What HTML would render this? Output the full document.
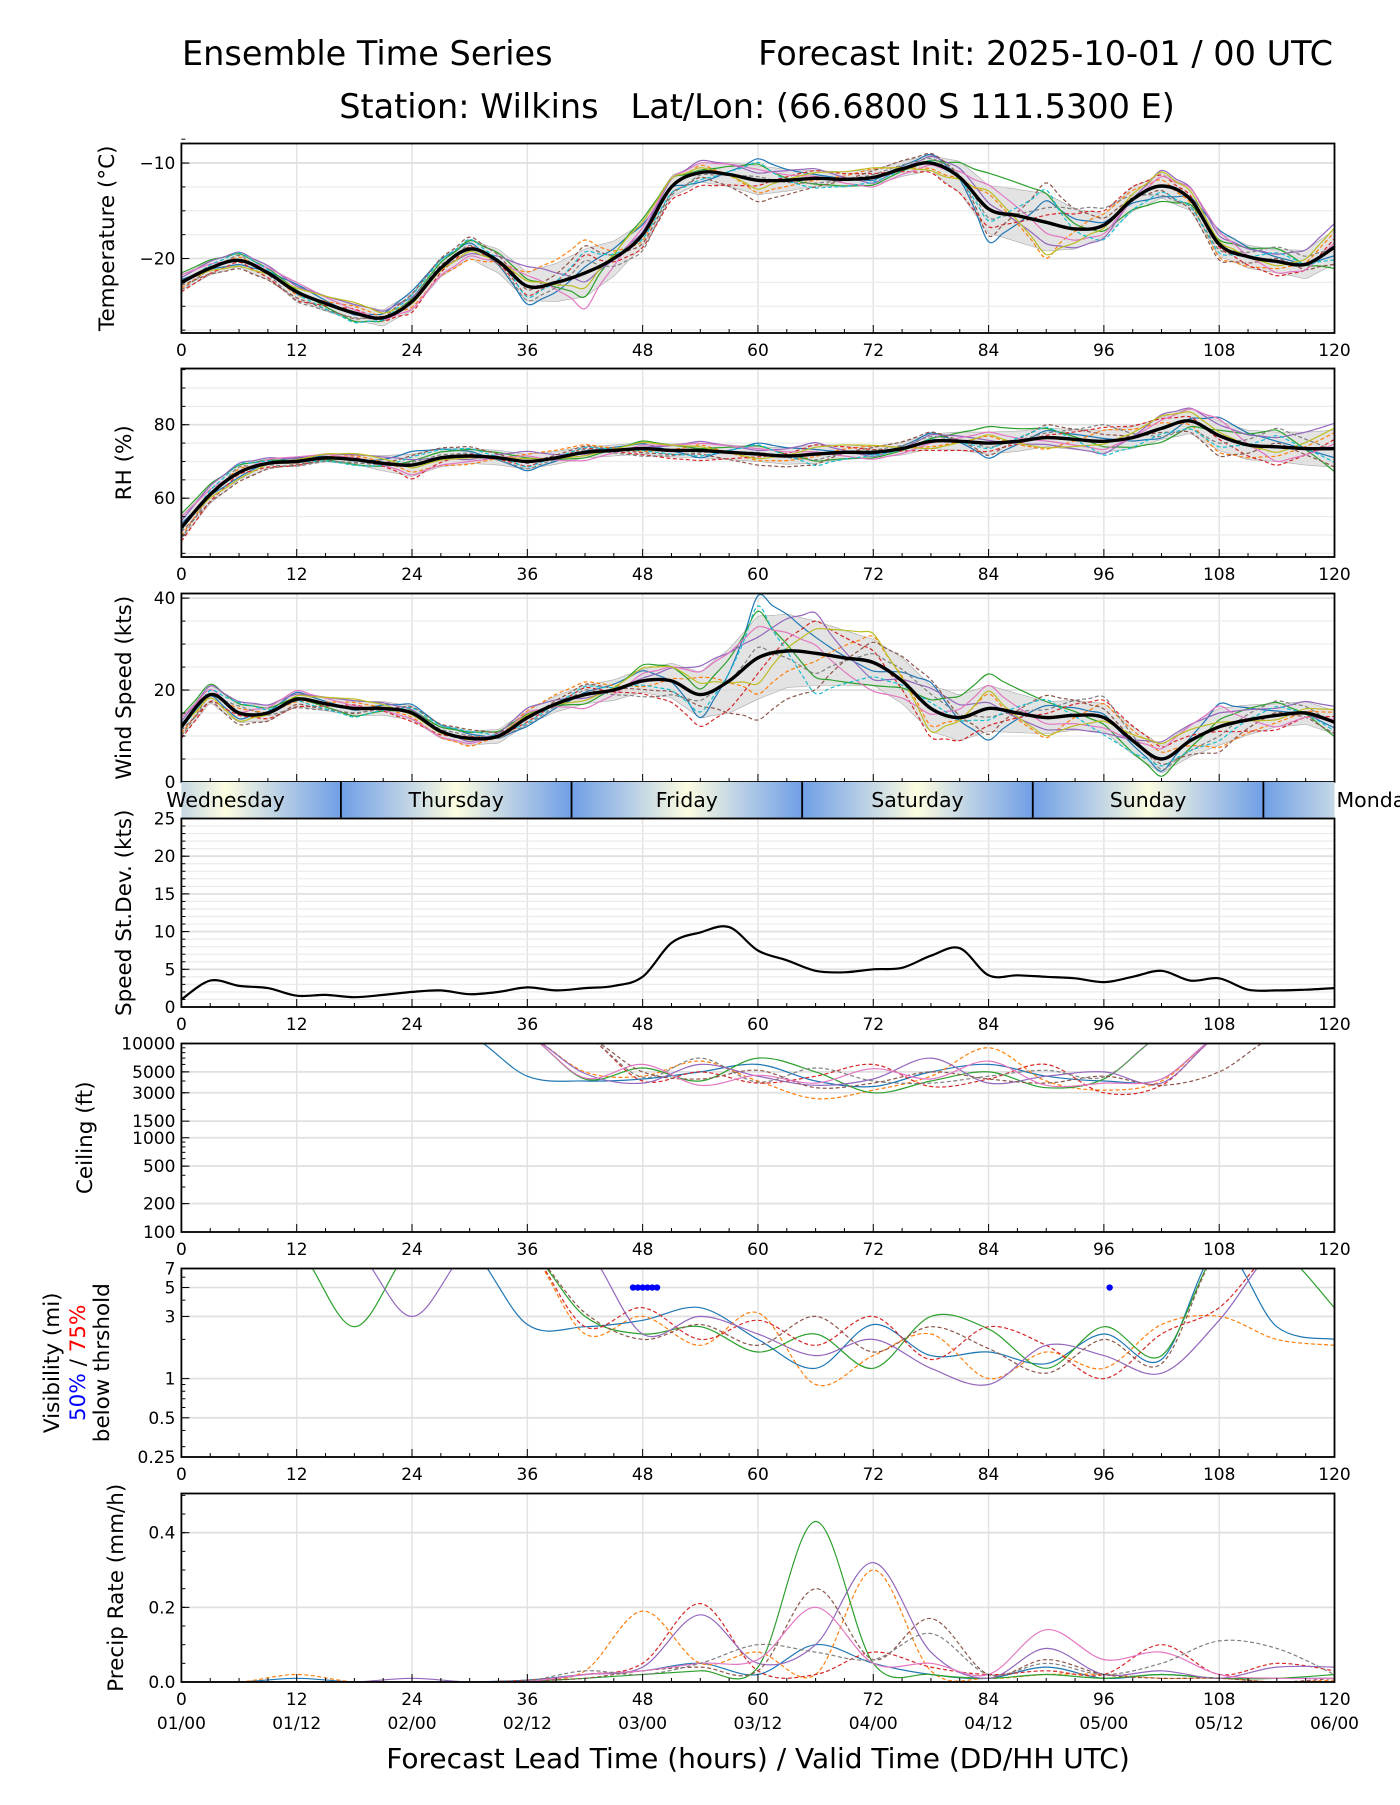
<!DOCTYPE html>
<html><head><meta charset="utf-8">
<style>
html,body{margin:0;padding:0;background:#fff;}
svg text{font-family:"DejaVu Sans","Liberation Sans",sans-serif;fill:#000;}
</style></head>
<body>
<svg id="chart" width="1400" height="1800" viewBox="0 0 1400 1800" xmlns="http://www.w3.org/2000/svg">
<text x="182" y="65" font-size="33.5">Ensemble Time Series</text>
<text x="1333" y="65" font-size="33.5" text-anchor="end">Forecast Init: 2025-10-01 / 00 UTC</text>
<text x="757" y="118" font-size="33.5" text-anchor="middle">Station: Wilkins &#160;&#160;Lat/Lon: (66.6800 S 111.5300 E)</text>
<text x="758" y="1768" font-size="28" text-anchor="middle">Forecast Lead Time (hours) / Valid Time (DD/HH UTC)</text>
<g id="root"></g>
</svg>
<script>
// ---- data (3-hourly, hours 0..120) ----
const hours3 = [0,3,6,9,12,15,18,21,24,27,30,33,36,39,42,45,48,51,54,57,60,63,66,69,72,75,78,81,84,87,90,93,96,99,102,105,108,111,114,117,120];
const tempMean = [-22.5,-21,-20.2,-21.5,-23.5,-24.7,-25.7,-26.2,-24.5,-21,-19,-20.3,-22.9,-22.5,-21.5,-20,-17.5,-12.5,-11,-11.2,-11.8,-11.8,-11.6,-11.7,-11.5,-10.6,-10,-11.5,-14.8,-15.5,-16.2,-16.9,-16.5,-13.8,-12.4,-13.8,-18.5,-19.8,-20.3,-20.6,-18.8];
const rhMean = [52,61,67,69.5,70,71,70.5,69.5,69,71,71.5,71,70,71,72.5,73,73.5,73,73,72.5,72,71.5,72,72.5,72.5,73.5,75.5,75.5,75,75.5,76.5,76,75.5,76.5,79,81,77,74.5,74,73.5,73.5];
const windMean = [12,19,15,15,18,17,16,16,15,11,9.5,10,14,17,19,20,22,22,19,22,27,28.5,28,27,26,22,16,14,16,15,14,14.5,14,9,5,9,12,13.5,14.5,15,13];
const sdevValues = [1,3.5,2.8,2.5,1.5,1.6,1.3,1.6,2,2.2,1.7,2,2.6,2.2,2.5,2.8,4,8.5,9.9,10.6,7.5,6.2,4.8,4.6,5,5.2,6.8,7.8,4.2,4.2,4,3.8,3.3,4,4.8,3.5,3.8,2.3,2.2,2.3,2.5];
// 6-hourly (hours 0..120)
const hours6 = [0,6,12,18,24,30,36,42,48,54,60,66,72,78,84,90,96,102,108,114,120];
const tempSpread = [0.8,0.7,0.8,0.8,0.9,1.0,1.5,2.5,1.2,1.0,1.5,0.8,0.8,0.8,2.5,3,1.2,1.3,1.2,1.2,1.8];
const rhSpread = [3,2,1,1.2,3,2,2,1.5,1.5,2,2,2.5,1.5,2,3,2.5,3,3,4,4,5];
const windSpread = [2,2,1.5,1.5,1.5,1.5,1.5,2,2.5,5,9,7,5,5,5,3.5,3,3,4,2.5,2.5];
const memberDev = [
 [0.3,-0.5,0.8,-0.2,1,0.5,-1,0.2,0.7,-0.8,1.2,0.4,-0.3,0.9,-1.1,0.6,0.2,-0.7,1,0.3,-0.4],
 [-0.6,0.4,-0.3,0.7,-0.5,-0.9,0.8,1.1,-0.4,0.6,-0.7,-0.2,0.9,-0.6,0.5,-1,0.8,0.4,-0.9,-0.5,0.7],
 [1,0.8,0.2,-0.9,0.3,0.7,0.4,-0.8,1.1,0.2,0.9,-0.6,-0.8,0.3,1.2,0.8,-0.4,-1,0.3,0.9,-1],
 [-1,-0.2,-0.9,0.4,-1,0.2,-0.5,0.6,-0.9,-1.1,-0.3,0.8,0.4,-1,-0.6,0.2,1,0.7,-0.2,-1,0.4],
 [0.5,1,0.6,0.9,0.4,-0.4,1.1,-0.3,0.2,1,0.4,1,-0.6,0.7,0.2,-0.6,-0.9,1,0.6,0.5,1.1],
 [-0.3,-1,-0.6,-0.6,0.7,1,-0.2,0.9,-0.6,-0.4,-1.2,-0.9,0.7,1,-0.9,1.1,0.5,-0.3,-1.1,0.2,-0.8],
 [0.8,0.1,1,0.3,-0.7,-0.6,0.6,-1.2,0.5,0.8,0.6,0.2,-1,-0.2,0.8,-0.3,-0.6,0.6,0.9,-0.8,0.2],
 [-0.8,0.6,-1,-0.5,0.2,0.3,-0.8,0.4,-1.1,-0.2,0.2,-0.5,0.3,0.5,-0.3,0.4,1.2,-0.6,-0.4,1,-0.1],
 [0.1,-0.7,0.4,1.1,-0.2,-0.2,0.3,-0.5,0.9,0.4,-0.5,0.6,1,-0.8,0.6,-0.9,-0.2,0.9,0.2,-0.3,0.9],
 [-0.2,0.9,-0.2,-1,0.6,0.8,-0.6,0.7,-0.3,-0.6,1,-1,-0.5,0.2,-0.4,0.9,-1,-0.4,-0.6,0.6,-0.6]
];
const ceilMembers = [
 [12000,12000,12000,12000,12000,12000,4500,4000,4200,5000,6000,4000,3500,5000,6000,4500,4000,4200,12000,12000,12000],
 [12000,12000,12000,12000,12000,12000,12000,5000,4500,6500,4000,2600,3200,4500,9000,4000,3200,4000,12000,12000,12000],
 [12000,12000,12000,12000,12000,12000,12000,4200,5500,4000,7000,5000,3000,4000,5000,3400,4200,12000,12000,12000,12000],
 [12000,12000,12000,12000,12000,12000,12000,12000,4000,5000,3800,4500,6000,3500,4200,6000,3000,3600,12000,12000,12000],
 [12000,12000,12000,12000,12000,12000,12000,4800,3800,6000,4500,3600,4200,7000,3800,4500,5000,3800,12000,12000,12000],
 [12000,12000,12000,12000,12000,12000,12000,12000,5000,4200,5200,3400,3800,5000,4200,3800,4500,3600,5000,12000,12000],
 [12000,12000,12000,12000,12000,12000,12000,4300,6000,3600,4600,3800,5400,4200,6500,3600,3800,4200,12000,12000,12000],
 [12000,12000,12000,12000,12000,12000,12000,12000,4400,7000,3900,5500,4000,3800,4500,5200,4400,12000,12000,12000,12000]
];
const visMembers = [
 [10,10,10,10,10,10,2.6,2.5,2.8,3.5,2,1.2,2.6,1.5,1.6,1.3,2.2,1.4,10,2.5,2],
 [10,10,10,10,10,10,10,2.2,3,1.8,3.2,0.9,1.5,2.2,1,1.6,1.2,2.6,3,2,1.8],
 [10,10,10,2.5,10,10,10,3,2.2,2.5,1.6,2.2,1.2,3,2.4,1.2,2.5,1.5,10,10,3.5],
 [10,10,10,10,10,10,10,2.5,3.5,2,2.8,1.8,3,1.4,2.5,1.8,1,2.2,3.5,10,10],
 [10,10,10,10,3,10,10,10,2.2,3,2.2,1.5,2,1.2,0.9,1.8,1.5,1.1,2.8,10,10],
 [10,10,10,10,10,10,10,3.2,2,2.6,1.8,3,1.6,2.5,1.7,1.1,2,1.3,10,10,10]
];
const precipMembers = [
 [0,0,0.01,0,0,0,0.005,0.02,0.03,0.05,0.02,0.1,0.05,0.02,0.01,0.04,0.01,0.02,0.01,0.01,0.01],
 [0,0,0.02,0,0,0,0.003,0.03,0.19,0.05,0.08,0.02,0.3,0.03,0.01,0.02,0.02,0.01,0.01,0,0.005],
 [0,0,0,0,0,0,0.002,0.01,0.02,0.03,0.04,0.43,0.05,0.02,0.01,0.02,0.01,0.02,0.01,0.01,0.02],
 [0,0,0,0,0,0,0.005,0.02,0.05,0.21,0.03,0.02,0.08,0.04,0.02,0.03,0.02,0.1,0.02,0.05,0.03],
 [0,0,0,0,0.01,0,0.002,0.02,0.04,0.18,0.05,0.1,0.32,0.08,0.01,0.09,0.02,0.03,0.01,0.04,0.04],
 [0,0,0,0,0,0,0.003,0.01,0.03,0.04,0.03,0.25,0.06,0.17,0.02,0.06,0.02,0.01,0.01,0,0.01],
 [0,0,0,0,0,0,0.002,0.02,0.03,0.05,0.06,0.2,0.05,0.05,0.02,0.14,0.06,0.08,0.02,0.01,0.01],
 [0,0,0,0,0,0,0.003,0.03,0.02,0.05,0.1,0.08,0.06,0.13,0.02,0.05,0.02,0.05,0.11,0.09,0.02]
];
const visDotHours = [47,47.5,48,48.5,49,49.5,96.6];
const visDotValues = [5,5,5,5,5,5,5];
const xTickLabels = ['0','12','24','36','48','60','72','84','96','108','120'];
const dateLabels = ['01/00','01/12','02/00','02/12','03/00','03/12','04/00','04/12','05/00','05/12','06/00'];
const dayNames = ['Wednesday','Thursday','Friday','Saturday','Sunday','Monday'];
const dayStartHours = [-7.4,16.6,40.6,64.6,88.6,112.6];

// ---- helpers ----
const NS='http://www.w3.org/2000/svg';
const root=document.getElementById('root');
const X0=181.4, X1=1334.5;
const xs=h=>X0+h/120*(X1-X0);
const colors=['#1f77b4','#ff7f0e','#2ca02c','#d62728','#9467bd','#8c564b','#e377c2','#7f7f7f','#bcbd22','#17becf'];
function mk(tag,attrs,parent){const e=document.createElementNS(NS,tag);for(const k in attrs)e.setAttribute(k,attrs[k]);(parent||root).appendChild(e);return e;}
function interp(hs,vs,h){if(h<=hs[0])return vs[0];for(let i=1;i<hs.length;i++){if(h<=hs[i]){const t=(h-hs[i-1])/(hs[i]-hs[i-1]);return vs[i-1]+t*(vs[i]-vs[i-1]);}}return vs[vs.length-1];}
function smooth(pts){if(!pts.length)return'';let d='M'+pts[0][0].toFixed(1)+','+pts[0][1].toFixed(1);for(let i=0;i<pts.length-1;i++){const p0=pts[i-1]||pts[i],p1=pts[i],p2=pts[i+1],p3=pts[i+2]||p2;const c1=[p1[0]+(p2[0]-p0[0])/6,p1[1]+(p2[1]-p0[1])/6],c2=[p2[0]-(p3[0]-p1[0])/6,p2[1]-(p3[1]-p1[1])/6];d+='C'+c1[0].toFixed(1)+','+c1[1].toFixed(1)+' '+c2[0].toFixed(1)+','+c2[1].toFixed(1)+' '+p2[0].toFixed(1)+','+p2[1].toFixed(1);}return d;}
let clipId=0;
function panel(name,top,bot,ys,yTicks,yLabels,minorY,gridY,showX,label){
  const g=mk('g',{});
  
  
  const cid='clip'+(clipId++);
  const cp=mk('clipPath',{id:cid},g);mk('rect',{x:X0,y:top,width:X1-X0,height:bot-top},cp);
  for(let h=0;h<=120;h+=12){mk('line',{x1:xs(h),x2:xs(h),y1:top,y2:bot,stroke:'#e3e3e3','stroke-width':1.5},g);}
  gridY.forEach(v=>{const y=ys(v);if(y>=top&&y<=bot)mk('line',{x1:X0,x2:X1,y1:y,y2:y,stroke:'#ebebeb','stroke-width':1.2},g);});
  yTicks.forEach(v=>{const y=ys(v);mk('line',{x1:X0,x2:X1,y1:y,y2:y,stroke:'#e0e0e0','stroke-width':1.8},g);});
  const inner=mk('g',{'clip-path':'url(#'+cid+')'},g);
  mk('rect',{x:X0,y:top,width:X1-X0,height:bot-top,fill:'none',stroke:'#000','stroke-width':1.8},g);
  for(let h=0;h<=120;h+=3){const maj=h%12===0;mk('line',{x1:xs(h),x2:xs(h),y1:bot,y2:bot-(maj?8:4),stroke:'#000','stroke-width':1},g);}
  yTicks.forEach((v,i)=>{const y=ys(v);mk('line',{x1:X0,x2:X0+8,y1:y,y2:y,stroke:'#000','stroke-width':1},g);
    const t=mk('text',{x:X0-6,y:y+6,'font-size':17,'text-anchor':'end'},g);t.textContent=yLabels[i];
    
    });
  minorY.forEach(v=>{const y=ys(v);mk('line',{x1:X0,x2:X0+4,y1:y,y2:y,stroke:'#000','stroke-width':1},g);});
  if(showX){xTickLabels.forEach((s,i)=>{const t=mk('text',{x:xs(i*12),y:bot+23,'font-size':17,'text-anchor':'middle'},g);t.textContent=s;
    
    });}
  if(label){const cy=(top+bot)/2;const t=mk('text',{x:0,y:0,'font-size':21.5,'text-anchor':'middle',transform:'translate('+label.x+','+cy+') rotate(-90)'},g);
    t.textContent=label.t;
    
    }
  return inner;
}
function ensemble(inner,name,ys,mean,spread){
  const up=[],lo=[];
  for(let h=0;h<=120;h+=1){const m=interp(hours3,mean,h),s=interp(hours6,spread,h);up.push([xs(h),ys(m+s)]);lo.push([xs(h),ys(m-s)]);}
  const band=mk('path',{d:smooth(up)+'L'+smooth(lo.reverse()).slice(1),fill:'#d9d9d9','fill-opacity':0.75,stroke:'#aaa','stroke-width':0.6},inner);
  
  
  memberDev.forEach((dev,k)=>{const pts=[];for(let h=0;h<=120;h+=1.5){const m=interp(hours3,mean,h),s=interp(hours6,spread,h),d=interp(hours6,dev,h);pts.push([xs(h),ys(m+1.25*d*s)]);}
    const p=mk('path',{d:smooth(pts),fill:'none',stroke:colors[k],'stroke-width':1.2,'stroke-dasharray':k%2?'4,2.5':'none'},inner);
    
    });
  const mp=hours3.map((h,i)=>[xs(h),ys(mean[i])]);
  const ml=mk('path',{d:smooth(mp),fill:'none',stroke:'#000','stroke-width':3.4},inner);
  
  
}
function members(inner,name,data,ys){
  data.forEach((arr,k)=>{const pts=hours6.map((h,i)=>[xs(h),ys(arr[i])]);
    const p=mk('path',{d:smooth(pts),fill:'none',stroke:colors[k%10],'stroke-width':1.2,'stroke-dasharray':k%2?'4,2.5':'none'},inner);
    
    });
}

// ---- temperature ----
(function(){const top=143.5,bot=333,vmin=-27.8,vmax=-7.95;const ys=v=>bot-(v-vmin)/(vmax-vmin)*(bot-top);
 const grid=[];for(let v=-27.5;v<=-7.5;v+=2.5)grid.push(v);
 const inner=panel('temperature',top,bot,ys,[-20,-10],['\u221220','\u221210'],grid,grid,true,{x:114,t:'Temperature (\u00b0C)'});
 ensemble(inner,'temperature',ys,tempMean,tempSpread);})();
// ---- RH ----
(function(){const top=368.5,bot=557,vmin=44,vmax=95.3;const ys=v=>bot-(v-vmin)/(vmax-vmin)*(bot-top);
 const grid=[];for(let v=45;v<=95;v+=5)grid.push(v);
 const inner=panel('rh',top,bot,ys,[60,80],['60','80'],grid,grid,true,{x:131,t:'RH (%)'});
 ensemble(inner,'rh',ys,rhMean,rhSpread);})();
// ---- wind ----
(function(){const top=593.5,bot=782,vmin=0,vmax=41;const ys=v=>bot-(v-vmin)/(vmax-vmin)*(bot-top);
 const grid=[];for(let v=5;v<=40;v+=5)grid.push(v);
 const inner=panel('wind-speed',top,bot,ys,[0,20,40],['0','20','40'],grid,grid,false,{x:131,t:'Wind Speed (kts)'});
 ensemble(inner,'wind-speed',ys,windMean,windSpread);})();
// ---- day band ----
(function(){const top=782,bot=818.5;const g=mk('g',{});
 
 
 const defs=mk('defs',{},g);const gr=mk('linearGradient',{id:'dayg',x1:0,x2:1,y1:0,y2:0},defs);
 [['0','#6f9fe6'],['0.25','#b4cce6'],['0.5','#fdfde0'],['0.75','#b4cce6'],['1','#6f9fe6']].forEach(s=>mk('stop',{offset:s[0],'stop-color':s[1]},gr));
 const cp=mk('clipPath',{id:'dayclip'},defs);mk('rect',{x:X0,y:top,width:X1-X0,height:bot-top},cp);
 const cg=mk('g',{'clip-path':'url(#dayclip)'},g);
 dayStartHours.forEach((h,i)=>{const x=xs(h),w=xs(h+24)-x;const r=mk('rect',{x:x,y:top,width:w,height:bot-top,fill:'url(#dayg)'},cg);
   
   
   if(i>0)mk('line',{x1:x,x2:x,y1:top,y2:bot,stroke:'#000','stroke-width':1.8},g);});
 dayStartHours.forEach((h,i)=>{const t=mk('text',{x:xs(h+12),y:top+25,'font-size':20.5,'text-anchor':'middle'},g);t.textContent=dayNames[i];
   if(i===dayNames.length-1){t.setAttribute('text-anchor','start');t.setAttribute('x',X1+2);}
   
   });
})();
// ---- speed stdev ----
(function(){const top=818.5,bot=1007,vmin=0,vmax=25;const ys=v=>bot-(v-vmin)/(vmax-vmin)*(bot-top);
 const grid=[];for(let v=1;v<=25;v+=1)grid.push(v);
 const inner=panel('speed-stdev',top,bot,ys,[0,5,10,15,20,25],['0','5','10','15','20','25'],grid,grid,true,{x:131,t:'Speed St.Dev. (kts)'});
 const pts=hours3.map((h,i)=>[xs(h),ys(sdevValues[i])]);
 const p=mk('path',{d:smooth(pts),fill:'none',stroke:'#000','stroke-width':2.2},inner);
 
 })();
// ---- ceiling ----
(function(){const top=1043.5,bot=1232;const L=Math.log10;const ys=v=>top+(4-L(v))/2*(bot-top);
 const minor=[];for(let d=100;d<10000;d*=10)for(let k=2;k<=9;k++)minor.push(d*k);
 const inner=panel('ceiling',top,bot,ys,[100,200,500,1000,1500,3000,5000,10000],['100','200','500','1000','1500','3000','5000','10000'],minor,[],true,{x:92,t:'Ceiling (ft)'});
 members(inner,'ceiling',ceilMembers,v=>ys(Math.min(v,12000)));})();
// ---- visibility ----
(function(){const top=1268.5,bot=1457;const L=Math.log10;const lmin=L(0.25),lmax=L(7);const ys=v=>bot-(L(v)-lmin)/(lmax-lmin)*(bot-top);
 const inner=panel('visibility',top,bot,ys,[0.25,0.5,1,3,5,7],['0.25','0.5','1','3','5','7'],[0.3,0.4,0.6,0.7,0.8,0.9,2,4,6],[],true,null);
 members(inner,'visibility',visMembers,ys);
 visDotHours.forEach((h,i)=>{const c=mk('circle',{cx:xs(h),cy:ys(visDotValues[i]),r:3.2,fill:'#0000ff'},inner);
   
   });
 const cy=(top+bot)/2;
 const t1=mk('text',{'font-size':21.5,'text-anchor':'middle',transform:'translate(59,'+cy+') rotate(-90)'});t1.textContent='Visibility (mi)';
 
 
 const t2=mk('text',{'font-size':21.5,'text-anchor':'middle',transform:'translate(85,'+cy+') rotate(-90)'});
 const a=mk('tspan',{fill:'#0000ff'},t2);a.textContent='50%';const b=mk('tspan',{},t2);b.textContent=' / ';const c=mk('tspan',{fill:'#ff0000'},t2);c.textContent='75%';
 
 
 const t3=mk('text',{'font-size':21.5,'text-anchor':'middle',transform:'translate(109,'+cy+') rotate(-90)'});t3.textContent='below thrshold';
 
 })();
// ---- precip ----
(function(){const top=1493.5,bot=1682,vmin=0,vmax=0.505;const ys=v=>bot-(v-vmin)/(vmax-vmin)*(bot-top);
 const minor=[];for(let v=0.05;v<=0.5;v+=0.05)minor.push(v);
 const inner=panel('precip-rate',top,bot,ys,[0,0.2,0.4],['0.0','0.2','0.4'],minor,[],true,{x:123,t:'Precip Rate (mm/h)'});
 members(inner,'precip-rate',precipMembers,v=>ys(Math.max(v,0)));
 dateLabels.forEach((s,i)=>{const t=mk('text',{x:xs(i*12),y:bot+47,'font-size':17,'text-anchor':'middle'});t.textContent=s;
   
   });})();
</script>
</body></html>
